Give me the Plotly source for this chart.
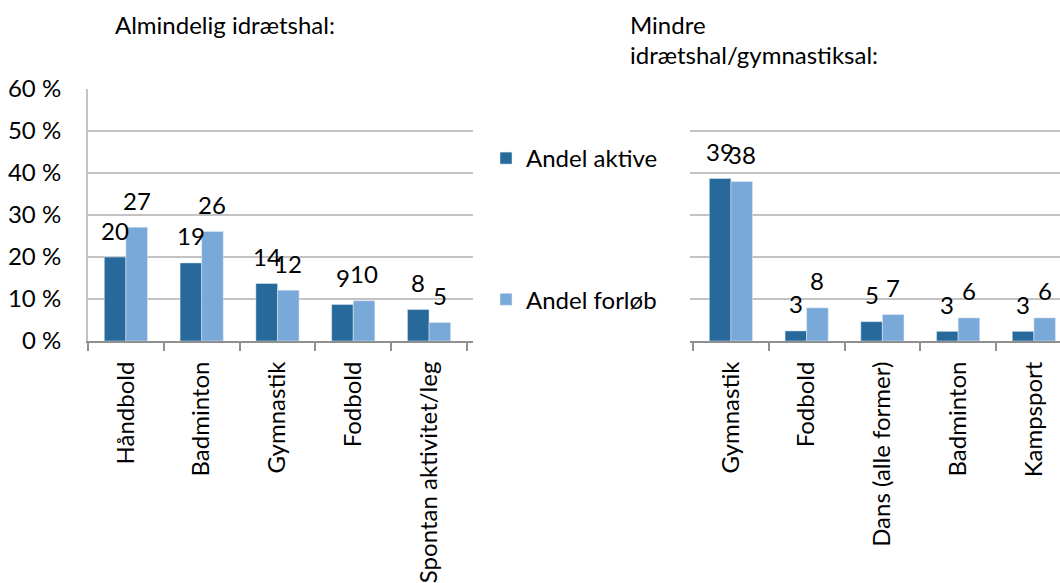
import plotly.graph_objects as go

# venstre panel: almindelig idrætshal
cats_alm = ["Håndbold", "Badminton", "Gymnastik", "Fodbold", "Spontan aktivitet/leg"]
aktive_alm = [20.0, 18.6, 13.7, 8.7, 7.5]
forlob_alm = [27.1, 26.1, 12.1, 9.6, 4.4]
lbl_aktive_alm = ["20", "19", "14", "9", "8"]
lbl_forlob_alm = ["27", "26", "12", "10", "5"]

# højre panel: mindre idrætshal/gymnastiksal
cats_min = ["Gymnastik", "Fodbold", "Dans (alle former)", "Badminton", "Kampsport"]
aktive_min = [38.7, 2.4, 4.6, 2.3, 2.3]
forlob_min = [38.0, 7.9, 6.3, 5.5, 5.5]
lbl_aktive_min = ["39", "3", "5", "3", "3"]
lbl_forlob_min = ["38", "8", "7", "6", "6"]

y_ticks = [0, 10, 20, 30, 40, 50, 60]
y_ticktext = ["0 %", "10 %", "20 %", "30 %", "40 %", "50 %", "60 %"]

DARK = "#27699a"
LIGHT = "#79a9d8"
FONT = "Lato"
FS = 24
GRID = "#c3c3c3"
AXIS = "#8f8f8f"

fig = go.Figure()

fig.add_trace(go.Bar(x=cats_alm, y=aktive_alm, name="Andel aktive", marker_color=DARK,
                     legendgroup="a", xaxis="x", yaxis="y"))
fig.add_trace(go.Bar(x=cats_alm, y=forlob_alm, name="Andel forløb", marker_color=LIGHT,
                     legendgroup="b", xaxis="x", yaxis="y"))
fig.add_trace(go.Bar(x=cats_min, y=aktive_min, name="Andel aktive", marker_color=DARK,
                     legendgroup="a", showlegend=False, xaxis="x2", yaxis="y2"))
fig.add_trace(go.Bar(x=cats_min, y=forlob_min, name="Andel forløb", marker_color=LIGHT,
                     legendgroup="b", showlegend=False, xaxis="x2", yaxis="y2"))

# dataetiketter over søjlerne
half = 10.75
for xr, cats, vals, lbls, dx in [
    ("x", cats_alm, aktive_alm, lbl_aktive_alm, -half),
    ("x", cats_alm, forlob_alm, lbl_forlob_alm, half),
    ("x2", cats_min, aktive_min, lbl_aktive_min, -half),
    ("x2", cats_min, forlob_min, lbl_forlob_min, half),
]:
    yr = "y" if xr == "x" else "y2"
    for c, v, t in zip(cats, vals, lbls):
        fig.add_annotation(x=c, y=v, xref=xr, yref=yr, text=t, showarrow=False,
                           xshift=dx, yshift=27, yanchor="middle",
                           font=dict(family=FONT, size=FS, color="black"))

# overskrifter
fig.add_annotation(x=113 / 1060, y=1 - 25 / 583, xref="paper", yref="paper",
                   text="Almindelig idrætshal:", showarrow=False, xanchor="left",
                   yanchor="middle", font=dict(family=FONT, size=FS, color="black"))
fig.add_annotation(x=628 / 1060, y=1 - 25 / 583, xref="paper", yref="paper",
                   text="Mindre", showarrow=False, xanchor="left",
                   yanchor="middle", font=dict(family=FONT, size=FS, color="black"))
fig.add_annotation(x=628 / 1060, y=1 - 54 / 583, xref="paper", yref="paper",
                   text="idrætshal/gymnastiksal:", showarrow=False, xanchor="left",
                   yanchor="middle", font=dict(family=FONT, size=FS, color="black"))

ydom = [(583 - 341) / 583, (583 - 89) / 583]
xaxis_common = dict(type="category", showline=True, linecolor=AXIS, linewidth=2,
                    ticks="outside", ticklen=8, tickcolor=AXIS, tickwidth=2,
                    tickson="boundaries", tickangle=-90, showgrid=False,
                    ticklabelstandoff=9, automargin=False,
                    tickfont=dict(family=FONT, size=FS, color="black"))
yaxis_common = dict(range=[0, 60], tickvals=y_ticks, showgrid=True, gridcolor=GRID,
                    gridwidth=2, zeroline=False, domain=ydom, automargin=False)

fig.update_layout(
    width=1060, height=583, autosize=False,
    margin=dict(l=0, r=0, t=0, b=0),
    paper_bgcolor="white", plot_bgcolor="white",
    barmode="group", bargap=0.43, bargroupgap=0,
    font=dict(family=FONT, size=FS, color="black"),
    xaxis=dict(domain=[88 / 1060, 473 / 1060], range=[-0.5, 4.58], **xaxis_common),
    xaxis2=dict(domain=[690 / 1060, 1.0], range=[-0.54, 4.345], anchor="y2", **xaxis_common),
    yaxis=dict(ticktext=y_ticktext, showline=True, linecolor=GRID, linewidth=2,
               ticklabelstandoff=20,
               tickfont=dict(family=FONT, size=FS, color="black"), **yaxis_common),
    yaxis2=dict(anchor="x2", showline=False, showticklabels=False, **yaxis_common),
    showlegend=True,
    legend=dict(x=486 / 1060, y=1 - 136 / 583, xanchor="left", yanchor="top",
                traceorder="grouped", tracegroupgap=107, bgcolor="rgba(0,0,0,0)",
                font=dict(family=FONT, size=FS, color="black")),
)

# siden har 8 px standardmargen; fjern den så figuren ligger i hjørnet
fig.write_html("out.html", config={"displayModeBar": False},
               post_script="document.body.style.margin='0px';")
